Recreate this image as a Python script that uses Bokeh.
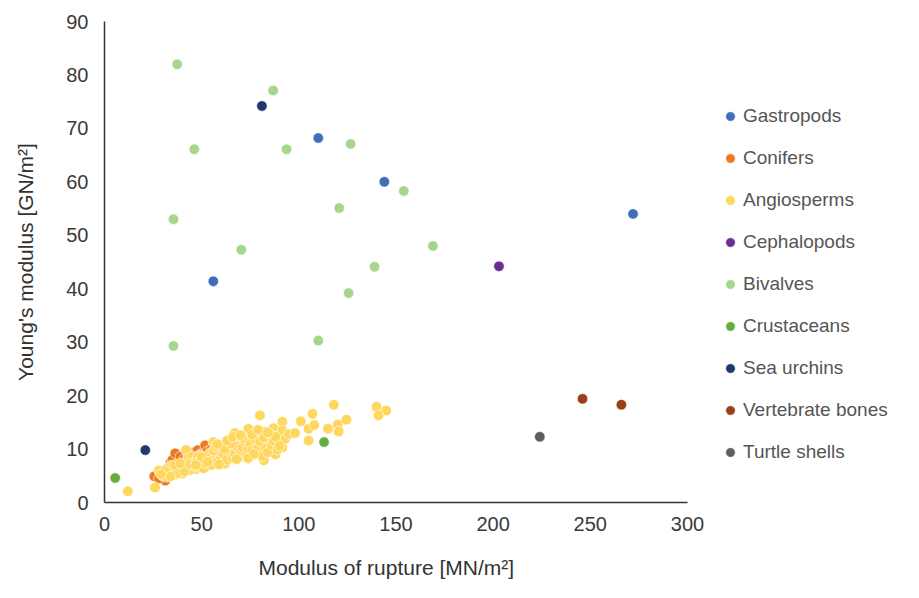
from bokeh.plotting import figure
from bokeh.models import Range1d, FixedTicker, Legend, LegendItem, Title
from bokeh.embed import file_html
from bokeh.resources import INLINE

# ---- data ----
series_names = ["Gastropods", "Conifers", "Angiosperms", "Cephalopods", "Bivalves",
                "Crustaceans", "Sea urchins", "Vertebrate bones", "Turtle shells"]
series_colors = ["#3F6FB8", "#EC7A22", "#FED75C", "#6B2D91", "#A8D58E",
                 "#66AE43", "#1E3A6D", "#9B3F18", "#5E5E5E"]

gastropods_x = [110, 144, 272, 56]
gastropods_y = [68.2, 60.0, 54.0, 41.4]

conifers_x = [25.6, 31.3, 30, 33, 34, 35, 36.4, 37, 38.5, 39, 40, 41, 42, 43, 44, 45, 46, 47,
              48, 49, 50, 51.8, 52, 53, 54, 55, 56, 57, 58, 60, 62.7, 64, 66, 68, 32, 28, 36, 42]
conifers_y = [4.9, 4.1, 5.9, 6.6, 7.5, 8.0, 9.2, 6.4, 7.5, 8.6, 7.0, 8.1, 7.6, 9.0, 8.4, 7.8, 9.4, 8.3,
              9.8, 8.7, 9.1, 10.7, 8.8, 9.6, 8.3, 10.0, 9.0, 9.4, 10.3, 9.9, 10.7, 10.3, 10.5, 10.9, 5.2, 4.5, 6.0, 9.8]

angiosperms_x = [12, 26, 28, 30, 33, 35, 36, 38, 40, 41, 42, 43, 44, 45, 46, 47, 48, 49, 50, 51,
                 52, 53, 54, 55, 56, 57, 58, 59, 60, 61, 62, 63, 64, 65, 66, 67, 68, 69, 70, 71,
                 72, 73, 74, 75, 76, 77, 78, 79, 80, 80, 81, 82, 83, 84, 85, 86, 87, 88, 89, 90,
                 91.5, 91.5, 91.5, 93, 95, 98, 101, 105, 105, 107, 108, 115, 118, 120, 120.5, 124.5, 140, 145, 141,
                 32, 34, 37, 39, 40, 42, 43, 44, 45, 46, 47, 48, 49, 50, 51, 52, 53, 54, 55, 56,
                 57, 58, 59, 60, 61, 62, 63, 64, 65, 66, 67, 68, 69, 70, 71, 72, 73, 74, 75, 76,
                 77, 78, 79, 80, 81, 82, 83, 84, 85, 86, 87, 88, 89, 90, 38, 41, 44, 47, 50, 53,
                 56, 59, 62, 65, 68, 71, 74, 77, 36, 39, 31, 34, 29, 57, 63, 66, 70, 76, 79, 84, 58, 47]
angiosperms_y = [2.1, 2.8, 6.0, 5.0, 5.5, 6.3, 5.2, 6.8, 6.0, 7.4, 9.8, 6.6, 7.9, 7.0, 8.4, 6.2, 7.6, 8.9, 7.1, 8.2,
                 8.4, 6.8, 7.9, 8.7, 11.3, 7.4, 9.0, 8.2, 9.8, 7.8, 8.9, 10.2, 9.3, 8.5, 10.6, 13.0, 9.1, 10.0, 11.2, 8.6,
                 9.7, 10.8, 13.8, 9.3, 8.8, 10.4, 13.0, 11.6, 16.3, 9.6, 10.9, 7.9, 13.3, 11.8, 10.3, 12.5, 13.9, 9.0, 11.2, 12.0,
                 15.1, 13.5, 10.3, 11.9, 12.8, 13.0, 15.2, 13.8, 11.6, 16.6, 14.5, 13.8, 18.3, 14.6, 13.3, 15.5, 17.9, 17.2, 16.3,
                 4.8, 6.9, 5.9, 7.2, 5.4, 6.5, 8.3, 6.1, 8.6, 6.9, 7.7, 8.6, 6.6, 8.0, 6.4, 7.3, 8.0, 9.1, 7.0, 8.1,
                 9.3, 7.6, 10.4, 8.4, 9.1, 7.3, 8.0, 10.8, 9.6, 8.3, 9.2, 10.5, 8.4, 9.5, 10.3, 11.4, 8.9, 10.0, 11.1, 9.8,
                 12.0, 9.2, 10.2, 11.4, 8.7, 12.2, 10.1, 9.4, 12.9, 10.8, 11.5, 12.3, 9.9, 10.6, 5.5, 5.8, 7.2, 7.4, 8.5, 7.6,
                 9.7, 7.1, 10.0, 11.0, 8.1, 12.1, 8.3, 9.1, 7.0, 7.3, 5.9, 4.9, 5.3, 10.5, 11.6, 12.3, 12.6, 12.7, 13.6, 13.1, 10.9, 7.0]

cephalopods_x = [203]
cephalopods_y = [44.2]

bivalves_x = [37.4, 86.8, 46.2, 93.7, 126.7, 120.8, 35.5, 70.4, 139, 125.6, 35.5, 110, 154, 169]
bivalves_y = [82.0, 77.1, 66.1, 66.1, 67.1, 55.1, 53.0, 47.3, 44.1, 39.2, 29.3, 30.3, 58.3, 48.0]

crustaceans_x = [5.5, 113]
crustaceans_y = [4.6, 11.3]

sea_urchins_x = [81, 21]
sea_urchins_y = [74.2, 9.8]

vertebrate_x = [246, 266]
vertebrate_y = [19.4, 18.3]

turtle_x = [224]
turtle_y = [12.3]

x_ticks = [0, 50, 100, 150, 200, 250, 300]
y_ticks = [0, 10, 20, 30, 40, 50, 60, 70, 80, 90]

all_x = [gastropods_x, conifers_x, angiosperms_x, cephalopods_x, bivalves_x,
         crustaceans_x, sea_urchins_x, vertebrate_x, turtle_x]
all_y = [gastropods_y, conifers_y, angiosperms_y, cephalopods_y, bivalves_y,
         crustaceans_y, sea_urchins_y, vertebrate_y, turtle_y]

FONT = "Liberation Sans"

# frame: 104..905 px wide (801 px); 0..300 occupies 583 px, the rest holds the legend
p = figure(width=905, height=598, output_backend="svg", toolbar_location=None,
           x_range=Range1d(0, 412.2), y_range=Range1d(0, 90),
           min_border_left=104, min_border_top=21, min_border_bottom=96, min_border_right=0)
p.outline_line_color = None
p.xgrid.visible = False
p.ygrid.visible = False
p.background_fill_color = "white"
p.border_fill_color = "white"

items = []
for name, col, xs, ys in zip(series_names, series_colors, all_x, all_y):
    r = p.scatter(xs, ys, size=10.5, fill_color=col, line_color="white", line_width=0.6)
    items.append(LegendItem(label=name, renderers=[r]))

for ax in (p.xaxis[0], p.yaxis[0]):
    ax.major_tick_line_color = None
    ax.minor_tick_line_color = None
    ax.axis_line_color = "#333333"
    ax.axis_line_width = 1.5
    ax.major_label_text_font = FONT
    ax.major_label_text_font_size = "20px"
    ax.major_label_text_color = "#3a3a3a"
    ax.axis_label_text_font = FONT
    ax.axis_label_text_font_size = "21px"
    ax.axis_label_text_font_style = "normal"
    ax.axis_label_text_color = "#333333"

p.xaxis.bounds = (0, 300)
p.xaxis.ticker = FixedTicker(ticks=x_ticks)
p.yaxis.ticker = FixedTicker(ticks=y_ticks)
p.yaxis.axis_label = "Young's modulus [GN/m²]"
p.xaxis.major_label_standoff = 8
p.yaxis.major_label_standoff = 10
p.yaxis.axis_label_standoff = 26

xtitle = Title(text="Modulus of rupture [MN/m²]", align="left", offset=154, standoff=40,
               text_font=FONT, text_font_size="21px", text_font_style="normal",
               text_color="#333333")
p.add_layout(xtitle, "below")

legend = Legend(items=items, location=(614, 38), padding=0, margin=0,
                border_line_color=None, background_fill_alpha=0,
                glyph_width=24, glyph_height=24, label_height=24, spacing=18,
                label_standoff=1, label_text_font=FONT, label_text_font_size="19px",
                label_text_color="#555555")
p.add_layout(legend, "center")

open("out.html", "w").write(file_html(p, INLINE))
